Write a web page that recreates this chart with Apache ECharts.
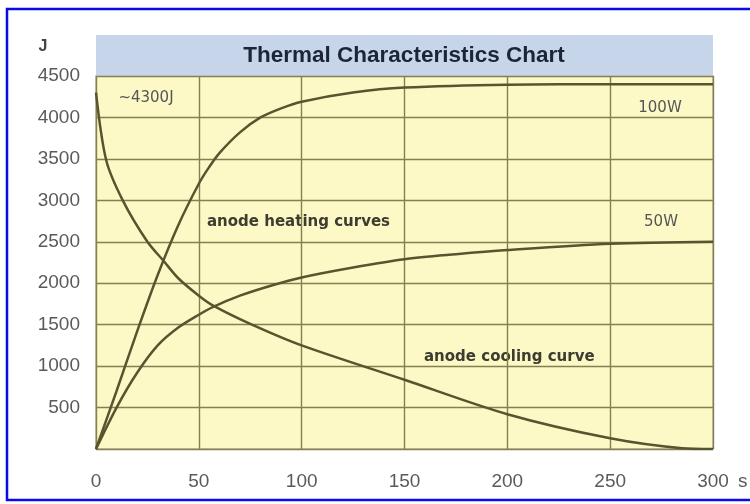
<!DOCTYPE html>
<html>
<head>
<meta charset="utf-8">
<script src="https://cdn.jsdelivr.net/npm/echarts@6/dist/echarts.min.js"></script>
<style>
  html, body { margin: 0; padding: 0; background: #ffffff; }
  #chart { width: 750px; height: 504px; }
</style>
</head>
<body>
<div id="chart"></div>
<script>
// Time axis (seconds) and energy axis (joules)
const xTicks = [0, 50, 100, 150, 200, 250, 300];
const yTicks = [500, 1000, 1500, 2000, 2500, 3000, 3500, 4000, 4500];

// Anode cooling curve: [seconds, joules]
const coolingCurve = [
  [0, 4300], [5, 3480], [13, 3000], [25, 2500], [33, 2265], [40, 2060],
  [50, 1850], [57, 1730], [75, 1510], [100, 1250], [150, 835], [200, 420],
  [250, 130], [285, 10], [300, 0]
];

// Anode heating curve at 100 W
const heating100W = [
  [0, 0], [10, 700], [20, 1420], [30, 2100], [40, 2700], [50, 3200], [55, 3400],
  [60, 3570], [70, 3820], [80, 4000], [90, 4110], [100, 4190], [125, 4300],
  [150, 4360], [200, 4395], [250, 4400], [300, 4400]
];

// Anode heating curve at 50 W
const heating50W = [
  [0, 0], [10, 500], [20, 920], [30, 1250], [40, 1465], [50, 1620], [57, 1715],
  [70, 1850], [85, 1970], [100, 2070], [125, 2190], [150, 2290], [175, 2350],
  [200, 2400], [250, 2475], [300, 2500]
];

const curveColor = '#57552f';
const gridColor = '#85804f';
const labelFont = 'Liberation Sans, Arial, sans-serif';
const noteFont = 'DejaVu Sans, Verdana, sans-serif';

const chart = echarts.init(document.getElementById('chart'), null, { renderer: 'canvas' });

function curve(name, data) {
  return {
    name: name,
    type: 'line',
    data: data,
    smooth: 0.3,
    showSymbol: false,
    silent: true,
    lineStyle: { color: curveColor, width: 2.5 },
    z: 5
  };
}

chart.setOption({
  backgroundColor: '#ffffff',
  animation: false,
  grid: {
    left: 96, right: 37, top: 76, bottom: 55,
    show: true,
    backgroundColor: '#fdf9c6',
    borderColor: '#b5b29c',
    borderWidth: 1.5
  },
  xAxis: {
    type: 'value',
    min: 0, max: 300, interval: 50,
    axisLine: { show: false },
    axisTick: { show: false },
    splitLine: { show: true, lineStyle: { color: gridColor, width: 1.4 } },
    axisLabel: {
      margin: 23,
      color: '#5a5a5a',
      fontFamily: labelFont,
      fontSize: 19,
      formatter: v => (xTicks.includes(v) ? String(v) : '')
    }
  },
  yAxis: {
    type: 'value',
    min: 0, max: 4500, interval: 500,
    axisLine: { show: false },
    axisTick: { show: false },
    splitLine: { show: true, lineStyle: { color: gridColor, width: 1.4 } },
    axisLabel: {
      margin: 16,
      color: '#5a5a5a',
      fontFamily: labelFont,
      fontSize: 19,
      formatter: v => (yTicks.includes(v) ? String(v) : '')
    }
  },
  series: [
    curve('anode cooling curve', coolingCurve),
    curve('100W', heating100W),
    curve('50W', heating50W)
  ],
  graphic: [
    // outer frame
    {
      type: 'rect', silent: true,
      shape: { x: 7, y: 9, width: 760, height: 491 },
      style: { fill: null, stroke: '#0a0af0', lineWidth: 2.5 }
    },
    // title band
    {
      type: 'rect', silent: true,
      shape: { x: 96, y: 35, width: 617, height: 41 },
      style: { fill: '#c7d5ea', stroke: null }
    },
    {
      type: 'text', silent: true, x: 404, y: 56,
      style: {
        text: 'Thermal Characteristics Chart',
        fill: '#1c2438', font: 'bold 22.5px ' + labelFont,
        align: 'center', verticalAlign: 'middle'
      }
    },
    // unit labels
    {
      type: 'text', silent: true, x: 43, y: 47,
      style: { text: 'J', fill: '#444444', font: 'bold 16px ' + labelFont, align: 'center', verticalAlign: 'middle' }
    },
    {
      type: 'text', silent: true, x: 738, y: 482,
      style: { text: 's', fill: '#5a5a5a', font: '19px ' + labelFont, align: 'left', verticalAlign: 'middle' }
    },
    // annotations
    {
      type: 'text', silent: true, x: 146, y: 98,
      style: { text: '~4300J', fill: '#555555', font: '15px ' + noteFont, align: 'center', verticalAlign: 'middle' }
    },
    {
      type: 'text', silent: true, x: 660, y: 108,
      style: { text: '100W', fill: '#555555', font: '15px ' + noteFont, align: 'center', verticalAlign: 'middle' }
    },
    {
      type: 'text', silent: true, x: 661, y: 222,
      style: { text: '50W', fill: '#555555', font: '15px ' + noteFont, align: 'center', verticalAlign: 'middle' }
    },
    {
      type: 'text', silent: true, x: 207, y: 222,
      style: { text: 'anode heating curves', fill: '#3c3c30', font: 'bold 15px ' + noteFont, align: 'left', verticalAlign: 'middle' }
    },
    {
      type: 'text', silent: true, x: 424, y: 357,
      style: { text: 'anode cooling curve', fill: '#3c3c30', font: 'bold 15px ' + noteFont, align: 'left', verticalAlign: 'middle' }
    }
  ]
});
</script>
</body>
</html>
